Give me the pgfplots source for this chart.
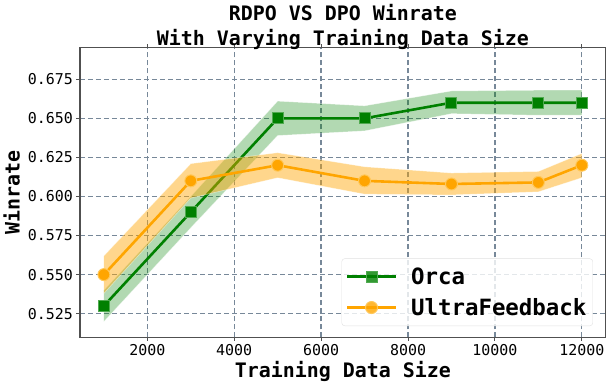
\documentclass[border=0pt]{standalone}
\usepackage{fontspec}
\setmainfont{DejaVu Sans Mono}
\setmonofont{DejaVu Sans Mono}
\usepackage{pgfplots}
\pgfplotsset{compat=1.18}

\definecolor{mgreen}{RGB}{0,128,0}
\definecolor{morange}{RGB}{255,165,0}
\definecolor{gridc}{RGB}{119,136,153}
\definecolor{spine}{RGB}{80,80,80}

\begin{document}
\begin{tikzpicture}
\begin{axis}[
  at={(0,0)}, anchor=south west,
  scale only axis,
  width=525.7bp, height=289.6bp,
  xmin=450, xmax=12550,
  ymin=0.5099, ymax=0.6952,
  xtick={2000,4000,6000,8000,10000,12000},
  ytick={0.525,0.55,0.575,0.6,0.625,0.65,0.675},
  scaled ticks=false,
  /pgf/number format/assume math mode=true,
  xticklabel style={/pgf/number format/1000 sep={}, font=\fontsize{15}{18}\selectfont},
  yticklabel style={/pgf/number format/fixed, /pgf/number format/fixed zerofill,
    /pgf/number format/precision=3, font=\fontsize{15}{18}\selectfont},
  tick align=outside,
  major tick length=3.5bp,
  tick style={color=spine, line width=1bp},
  axis line style={color=spine, line width=1.3bp},
  grid=major,
  major grid style={color=gridc, line width=1.3bp, dash pattern=on 5bp off 3bp},
  title={RDPO VS DPO Winrate\\With Varying Training Data Size},
  title style={at={(axis description cs:0.5,1)}, anchor=south, align=center,
    inner sep=0pt, yshift=-8bp, font=\fontsize{20}{24.5}\selectfont\bfseries},
  xlabel={Training Data Size},
  xlabel style={at={(axis description cs:0.5,-0.1405)}, anchor=base, inner sep=0pt,
    font=\fontsize{20}{24}\selectfont\bfseries},
  ylabel={Winrate},
  ylabel style={at={(axis description cs:-0.1150,0.5)}, anchor=base, inner sep=0pt,
    font=\fontsize{20}{24}\selectfont\bfseries},
  legend style={at={(axis description cs:0.9758,0.039)}, anchor=south east,
    font=\fontsize{22.5}{27}\selectfont\bfseries,
    draw=black!12, rounded corners=3bp, fill=white, fill opacity=0.8, text opacity=1,
    inner xsep=4bp, inner ysep=7bp, row sep=8.5bp, column sep=11.4bp,
    nodes={inner xsep=2.3bp, inner ysep=2bp}},
  legend cell align=left,
  legend image code/.code={
    \draw[mark repeat=2, mark phase=2] plot coordinates {(0bp,0bp) (24.5bp,0bp) (49bp,0bp)};
  },
]

% Orca band
\addplot[forget plot, fill=mgreen, fill opacity=0.3, draw=white, draw opacity=0.5, line width=0.5bp]
  coordinates {
  (1000,0.540)(3000,0.600)(5000,0.661)(7000,0.658)(9000,0.6675)(11000,0.668)(12000,0.668)
  (12000,0.652)(11000,0.652)(9000,0.653)(7000,0.642)(5000,0.639)(3000,0.580)(1000,0.520)
  };
\addplot[color=mgreen, line width=2.6bp, mark=square*, mark size=5.5bp,
  mark options={fill=mgreen, draw={rgb,255:red,80;green,170;blue,80}, line width=1bp}]
  coordinates {
  (1000,0.53)(3000,0.59)(5000,0.65)(7000,0.65)(9000,0.66)(11000,0.66)(12000,0.66)
  };
\addlegendentry{Orca}

% UltraFeedback band
\addplot[forget plot, fill=morange, fill opacity=0.45, draw=white, draw opacity=0.5, line width=0.5bp]
  coordinates {
  (1000,0.562)(3000,0.621)(5000,0.628)(7000,0.619)(9000,0.615)(11000,0.616)(12000,0.6275)
  (12000,0.612)(11000,0.603)(9000,0.601)(7000,0.6015)(5000,0.612)(3000,0.599)(1000,0.538)
  };
\addplot[color=morange, line width=2.6bp, mark=*, mark size=6bp,
  mark options={fill=morange, draw={rgb,255:red,255;green,200;blue,90}, line width=1bp}]
  coordinates {
  (1000,0.55)(3000,0.61)(5000,0.62)(7000,0.61)(9000,0.608)(11000,0.609)(12000,0.62)
  };
\addlegendentry{UltraFeedback}

\end{axis}
\pgfresetboundingbox
\path (-80bp,-48.7bp) rectangle (526bp,337.3bp);
\end{tikzpicture}
\end{document}
